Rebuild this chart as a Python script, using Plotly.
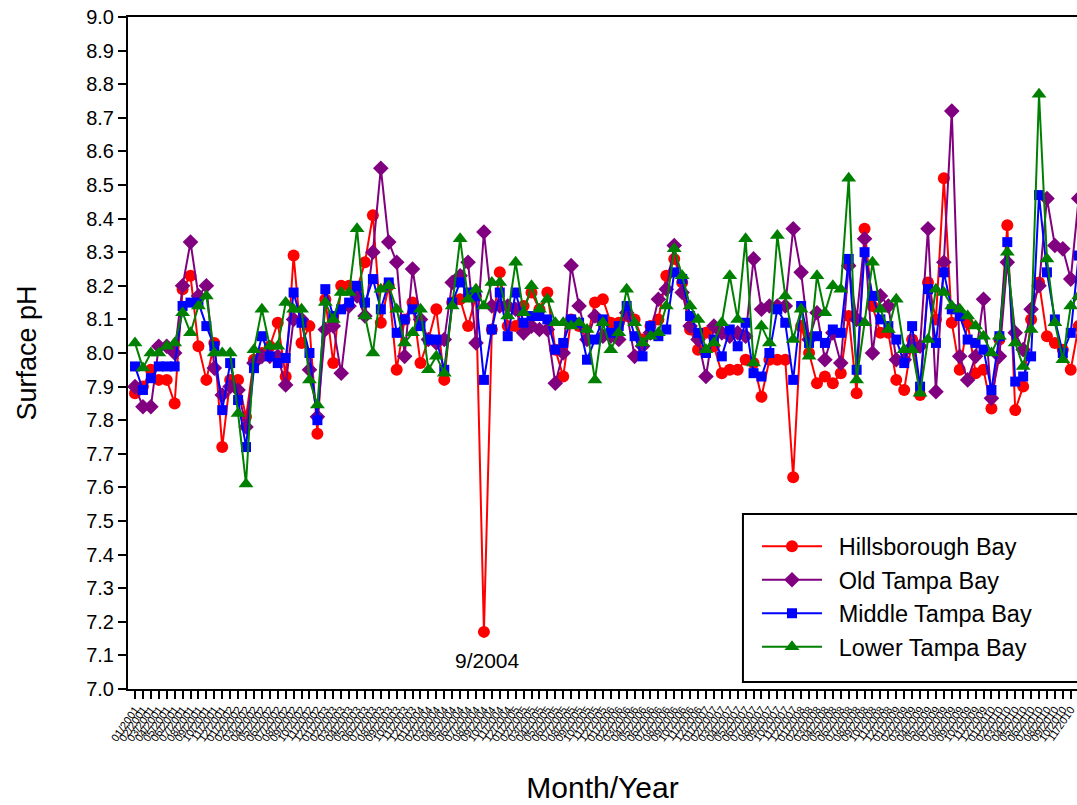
import plotly.graph_objects as go

# Month labels (Jan 2001 onward)
months = [f"{m:02d}/{y}" for y in range(2001, 2011) for m in range(1, 13)]

hillsborough = [7.88, 7.90, 7.95, 7.92, 7.92, 7.85, 8.19, 8.23, 8.02, 7.92,
                8.03, 7.72, 7.92, 7.92, 7.81, 7.98, 8.00, 8.02, 8.09, 7.93,
                8.29, 8.03, 8.08, 7.76, 8.16, 7.97, 8.20, 8.20, 8.19, 8.27,
                8.41, 8.09, 8.20, 7.95, 8.10, 8.15, 7.97, 8.04, 8.13, 7.92,
                8.15, 8.16, 8.08, 8.17, 7.17, 8.07, 8.24, 8.08, 8.08, 8.14,
                8.18, 8.13, 8.18, 8.01, 7.93, 8.10, 8.08, 8.04, 8.15, 8.16,
                8.09, 8.09, 8.11, 8.10, 8.04, 8.08, 8.10, 8.23, 8.28, 8.21,
                8.07, 8.01, 8.06, 8.02, 7.94, 7.95, 7.95, 7.98, 7.97, 7.87,
                7.98, 7.98, 7.98, 7.63, 8.08, 8.00, 7.91, 7.93, 7.91, 7.94,
                8.11, 7.88, 8.37, 8.14, 8.06, 8.06, 7.92, 7.89, 8.04, 7.875,
                8.21, 8.10, 8.52, 8.09, 7.95, 8.09, 7.94, 7.95, 7.835, 8.04,
                8.38, 7.83, 7.90, 8.10, 8.21, 8.05, 8.03, 8.01, 7.95, 8.08]

old_tampa = [7.90, 7.84, 7.84, 8.02, 8.02, 8.00, 8.20, 8.33, 8.17, 8.20,
             7.955, 7.875, 7.90, 7.89, 7.78, 7.97, 7.99, 7.99, 7.99, 7.905,
             8.10, 8.10, 7.95, 7.81, 8.07, 8.08, 7.94, 8.14, 8.17, 8.11,
             8.30, 8.55, 8.33, 8.27, 7.99, 8.25, 8.10, 8.04, 8.03, 8.04,
             8.21, 8.23, 8.27, 8.03, 8.36, 8.14, 8.14, 8.14, 8.13, 8.06,
             8.08, 8.07, 8.07, 7.91, 8.00, 8.26, 8.14, 8.04, 8.11, 8.05,
             8.05, 8.04, 8.12, 7.99, 8.02, 8.06, 8.16, 8.19, 8.32, 8.18,
             8.08, 8.04, 7.93, 8.08, 8.06, 8.05, 8.06, 8.05, 8.28, 8.13,
             8.14, 8.14, 8.14, 8.37, 8.24, 8.04, 8.12, 7.98, 8.06, 7.97,
             8.26, 8.10, 8.34, 8.00, 8.17, 8.14, 7.98, 7.98, 8.02, 8.02,
             8.37, 7.885, 8.27, 8.72, 7.99, 7.92, 7.99, 8.16, 7.865, 7.99,
             8.27, 8.06, 8.01, 8.13, 8.20, 8.46, 8.32, 8.31, 8.22, 8.46]

middle_tampa = [7.96, 7.89, 7.925, 7.96, 7.96, 7.96, 8.14, 8.15, 8.15, 8.08,
                8.02, 7.83, 7.97, 7.86, 7.72, 7.955, 8.05, 7.99, 7.97, 7.985,
                8.18, 8.09, 8.00, 7.80, 8.19, 8.11, 8.13, 8.15, 8.20, 8.15,
                8.22, 8.13, 8.21, 8.06, 8.10, 8.13, 8.08, 8.04, 8.04, 7.95,
                8.15, 8.21, 8.18, 8.17, 7.92, 8.07, 8.18, 8.05, 8.18, 8.09,
                8.11, 8.11, 8.10, 8.01, 8.03, 8.10, 8.09, 7.98, 8.04, 8.10,
                8.06, 8.08, 8.14, 8.05, 7.99, 8.08, 8.05, 8.07, 8.24, 8.22,
                8.11, 8.06, 8.00, 8.04, 7.99, 8.07, 8.02, 8.09, 7.94, 7.93,
                8.00, 8.13, 8.09, 7.92, 8.14, 8.03, 8.05, 8.03, 8.07, 8.06,
                8.28, 7.95, 8.30, 8.17, 8.10, 8.08, 8.04, 7.97, 8.08, 7.90,
                8.19, 8.03, 8.24, 8.13, 8.11, 8.04, 8.03, 8.01, 7.89, 8.05,
                8.33, 7.915, 7.93, 7.99, 8.47, 8.24, 8.10, 8.00, 8.06, 8.29]

lower_tampa = [8.03, 7.955, 8.00, 8.00, 8.02, 8.03, 8.12, 8.06, 8.14, 8.17,
               8.00, 8.00, 8.00, 7.82, 7.61, 8.01, 8.13, 8.02, 8.02, 8.15,
               8.13, 8.13, 7.92, 7.845, 8.15, 8.10, 8.18, 8.18, 8.37, 8.11,
               8.00, 8.19, 8.20, 8.13, 8.03, 8.06, 8.13, 7.95, 7.99, 7.94,
               8.14, 8.34, 8.16, 8.19, 8.14, 8.21, 8.21, 8.11, 8.27, 8.12,
               8.20, 8.13, 8.16, 8.09, 8.09, 8.08, 8.09, 8.07, 7.92, 8.09,
               8.01, 8.06, 8.19, 8.09, 8.03, 8.05, 8.06, 8.14, 8.31, 8.23,
               8.14, 8.10, 8.01, 8.03, 8.09, 8.23, 8.10, 8.34, 7.97, 8.08,
               8.03, 8.35, 8.17, 8.04, 8.13, 7.99, 8.23, 8.12, 8.20, 8.19,
               8.52, 7.92, 8.09, 8.27, 8.13, 8.07, 8.16, 8.01, 8.01, 7.88,
               8.04, 8.19, 8.18, 8.14, 8.13, 8.11, 8.08, 8.05, 8.00, 8.05,
               8.30, 8.03, 7.96, 8.07, 8.77, 8.28, 8.09, 7.98, 8.14, 8.17]

series = [
    ("Hillsborough Bay", hillsborough, "#ff0000", "circle", 12),
    ("Old Tampa Bay", old_tampa, "#800080", "diamond", 12),
    ("Middle Tampa Bay", middle_tampa, "#0000ff", "square", 10),
    ("Lower Tampa Bay", lower_tampa, "#008000", "triangle-up", 13),
]

FONT = "Liberation Sans, Arial, sans-serif"

fig = go.Figure()
for name, vals, color, sym, size in series:
    fig.add_trace(go.Scatter(
        x=months, y=vals, name="\u2002" + name, mode="lines+markers",
        line=dict(color=color, width=2),
        marker=dict(symbol=sym, size=size, color=color, line=dict(width=0)),
    ))

fig.add_annotation(x="09/2004", y=7.086, text="9/2004", showarrow=False,
                   xshift=4, font=dict(family=FONT, size=21, color="black"))

# legend frame (extends past right edge like the reference)
fig.add_shape(type="rect", xref="paper", yref="paper",
              x0=0.648, x1=1.1, y0=0.0104, y1=0.2604,
              line=dict(color="black", width=2), fillcolor="rgba(0,0,0,0)")

fig.update_layout(
    width=1077, height=805,
    margin=dict(l=128, r=0, t=17, b=116),
    paper_bgcolor="white", plot_bgcolor="white",
    font=dict(family=FONT, color="black"),
    showlegend=True,
    legend=dict(x=0.6628, y=0.245, xanchor="left", yanchor="top",
                bgcolor="rgba(0,0,0,0)", borderwidth=0,
                font=dict(family=FONT, size=23.5, color="black"),
                itemwidth=60),
    xaxis=dict(
        type="category", range=[-0.883, 118.79],
        tickmode="array", tickvals=months, ticktext=months,
        tickangle=-55, tickfont=dict(family=FONT, size=11, color="black"),
        ticks="outside", ticklen=8, tickwidth=1.5, tickcolor="black",
        showline=True, linecolor="black", linewidth=2, mirror=True,
        showgrid=False, zeroline=False,
        title=dict(text="Month/Year", font=dict(family=FONT, size=30), standoff=34),
    ),
    yaxis=dict(
        range=[7.0, 9.0], dtick=0.1, tick0=7.0, tickformat=".1f",
        tickfont=dict(family=FONT, size=20),
        ticks="outside", ticklen=8, tickwidth=1.5, tickcolor="black",
        showline=True, linecolor="black", linewidth=2, mirror=False,
        showgrid=False, zeroline=False,
        title=dict(text="Surface pH", font=dict(family=FONT, size=27), standoff=42),
    ),
)

fig.write_html("out.html")
